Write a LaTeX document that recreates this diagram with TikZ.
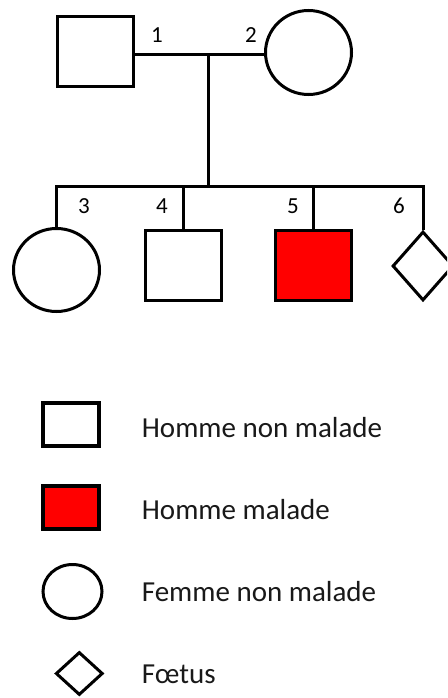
\documentclass[tikz,border=0pt]{standalone}
\usepackage{fontspec}
\setmainfont{Carlito}
\usetikzlibrary{shapes.geometric}
\tikzset{
  ind/.style={draw=black, line width=3pt, fill=white, inner sep=0pt},
  male/.style={ind, rectangle, minimum width=76pt, minimum height=70pt},
  female/.style={ind, ellipse, minimum width=86pt, minimum height=84pt},
  fetus/.style={ind, diamond, minimum width=61pt, minimum height=69pt},
  ill/.style={fill=red},
  link/.style={line width=3pt},
  num/.style={font=\fontsize{23}{25}\selectfont, inner sep=0pt},
  legtext/.style={font=\fontsize{29}{31}\selectfont, anchor=west, inner sep=0pt, text=black!90}
}
\begin{document}
\begin{tikzpicture}[x=1pt,y=-1pt]
\useasboundingbox (0,0) rectangle (447,698);
\clip (0,0) rectangle (447,698);
\fill[white] (0,0) rectangle (447,698);
% parents
\node[male] (n1) at (95.5,52) {};
\node[female] (n2) at (308.5,52.5) {};
\coordinate (m) at (208,54.5);
\coordinate (s) at (208,186);
% children
\node[female, minimum width=86pt, minimum height=83pt] (n3) at (56.5,270) {};
\node[male] (n4) at (183.5,265.5) {};
\node[male, ill] (n5) at (313.5,265.5) {};
\node[fetus] (n6) at (423,266) {};
% connectors
\draw[link] (n1.east |- m) -- (n2.west |- m);
\draw[link] (m) -- (s);
\draw[link, line cap=rect] (n3.north |- s) -- (n6.north |- s);
\draw[link] (n3.north |- s) -- (n3.north);
\draw[link] (n4.north |- s) -- (n4.north);
\draw[link] (n5.north |- s) -- (n5.north);
\draw[link] (n6.north |- s) -- (n6.north);
% numbers
\node[num] (t1) at (157,35) {1};
\node[num] (t2) at (251,35) {2};
\node[num] (t3) at (84,206) {3};
\node[num] (t4) at (162,206) {4};
\node[num] (t5) at (293,206) {5};
\node[num] (t6) at (399,206) {6};
% legend
\node[ind, rectangle, line width=4pt, minimum width=56pt, minimum height=43pt] (l1) at (71,424.5) {};
\node[ind, ill, rectangle, line width=4pt, minimum width=56pt, minimum height=43pt] (l2) at (71,507) {};
\node[ind, ellipse, minimum width=59pt, minimum height=54pt] (l3) at (72.5,591.5) {};
\node[ind, diamond, minimum width=47pt, minimum height=43pt] (l4) at (79.3,673.5) {};
\node[legtext] (lt1) at (141.7,428) {Homme non malade};
\node[legtext] (lt2) at (141.7,510) {Homme malade};
\node[legtext] (lt3) at (141.7,592) {Femme non malade};
\node[legtext] (lt4) at (141.7,674) {Fœtus};
\end{tikzpicture}
\end{document}
